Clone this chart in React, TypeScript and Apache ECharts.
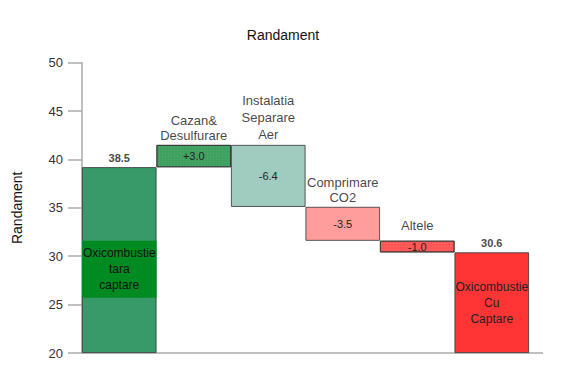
import React, { useEffect, useRef } from "react";
import * as echarts from "echarts";

const categories = ["Oxicombustie tara captare", "Cazan&Desulfurare", "Instalatia Separare Aer", "Comprimare CO2", "Altele", "Oxicombustie Cu Captare"];
// bar bottoms and tops as drawn
const barLow = [20, 39.2, 35.1, 31.6, 30.4, 20];
const barHigh = [39.2, 41.5, 41.5, 35.1, 31.6, 30.4];
const valueLabels = ["38.5", "+3.0", "-6.4", "-3.5", "-1.0", "30.6"];
const topNames = ["", "Cazan&\nDesulfurare", "Instalatia\nSeparare\nAer", "Comprimare\nCO2", "Altele", ""];
const insideNames = ["", "", "", "", "", "Oxicombustie\nCu\nCaptare"];
const boxLow = 25.7;
const boxHigh = 31.6;
const boxText = "Oxicombustie\ntara\ncaptare";
const colors = ["#389a68", "#40a060", "#a0ccc0", "#ff9c9c", "#ff5656", "#ff3535"];
const yTicks = [20, 25, 30, 35, 40, 45, 50];

export default function App() {
  const ref = useRef<HTMLDivElement>(null);
  useEffect(() => {
    const chart = echarts.init(ref.current!, null, { renderer: "svg" });
    const font = "Liberation Sans";
    const narrow = "'Liberation Sans Narrow', 'Liberation Sans'";
    const dotted = (c: string) => ({
      symbol: "rect",
      symbolSize: 0.6,
      color: "rgba(255,255,255,0.35)",
      dashArrayX: [1, 2],
      dashArrayY: [1, 2],
      rotation: 0,
      backgroundColor: c,
    });
    const topDist = [2, 2, 2, 2, 8, 2];
    chart.setOption({
      animation: false,
      title: {
        text: "Randament",
        left: 278,
        textAlign: "center",
        top: 23,
        textStyle: { fontFamily: font, fontSize: 14, fontWeight: "normal", color: "#111" },
      },
      grid: { left: 82, right: 36, top: 62.7, bottom: 20 },
      xAxis: {
        type: "category",
        data: categories,
        axisLine: { lineStyle: { color: "#aaa", width: 1.5 } },
        axisTick: { show: false },
        axisLabel: { show: false },
      },
      yAxis: {
        type: "value",
        min: yTicks[0],
        max: yTicks[yTicks.length - 1],
        interval: 5,
        name: "Randament",
        nameLocation: "middle",
        nameGap: 58,
        nameTextStyle: { fontFamily: font, fontSize: 14, color: "#111" },
        splitLine: { show: false },
        axisLine: { show: true, lineStyle: { color: "#aaa", width: 1.5 } },
        axisTick: { show: true, length: 14, lineStyle: { color: "#aaa", width: 1.5 } },
        axisLabel: { margin: 19, fontFamily: font, fontSize: 13, color: "#333" },
      },
      graphic: [
        { type: "line", shape: { x1: 529, y1: 353, x2: 543, y2: 353 }, style: { stroke: "#aaa", lineWidth: 1.5 } },
      ],
      series: [
        {
          type: "bar",
          stack: "wf",
          barCategoryGap: "0%",
          barGap: "-100%",
          silent: true,
          itemStyle: { color: "transparent" },
          data: barLow.map((v) => v),
        },
        {
          type: "bar",
          stack: "wf",
          barCategoryGap: "0%",
          barGap: "-100%",
          data: barHigh.map((h, i) => ({
            value: +(h - barLow[i]).toFixed(2),
            itemStyle: {
              color: colors[i],
              borderColor: "#333",
              borderWidth: 0.8,
              decal: i === 1 || i === 4 ? dotted(colors[i]) : undefined,
            },
            label: {
              show: i > 0,
              position: "inside",
              formatter: i === 5 ? insideNames[i] : valueLabels[i],
              fontFamily: i === 5 ? narrow : font,
              fontSize: i === 5 ? 12 : 11,
              lineHeight: i === 5 ? 16 : 12,
              color: "#222",
            },
          })),
        },
        {
          type: "bar",
          stack: "box",
          barCategoryGap: "0%",
          barGap: "-100%",
          silent: true,
          itemStyle: { color: "transparent" },
          data: categories.map((_, i) => (i === 0 ? boxLow : "-")),
        },
        {
          type: "bar",
          stack: "box",
          barCategoryGap: "0%",
          barGap: "-100%",
          data: categories.map((_, i) =>
            i === 0
              ? {
                  value: +(boxHigh - boxLow).toFixed(2),
                  itemStyle: { color: "#008a22" },
                  label: {
                    show: true,
                    position: "inside",
                    formatter: boxText,
                    fontFamily: narrow,
                    fontSize: 12,
                    lineHeight: 16,
                    color: "#111",
                  },
                }
              : "-"
          ),
        },
        {
          type: "scatter",
          symbolSize: 0,
          data: barHigh.map((h, i) => ({
            value: [i, h],
            label: {
              show: true,
              position: "top",
              distance: topDist[i],
              formatter: i === 0 || i === 5 ? valueLabels[i] : topNames[i],
              fontFamily: font,
              fontSize: i === 0 || i === 5 ? 11 : 13,
              fontWeight: i === 0 || i === 5 ? "bold" : "normal",
              lineHeight: i === 2 ? 17 : 15,
              color: "#111",
            },
          })),
        },
      ],
    });
    return () => chart.dispose();
  }, []);
  return (
    <div
      ref={ref}
      style={{ position: "fixed", left: 0, top: 0, width: 565, height: 373, background: "#fff" }}
    />
  );
}
